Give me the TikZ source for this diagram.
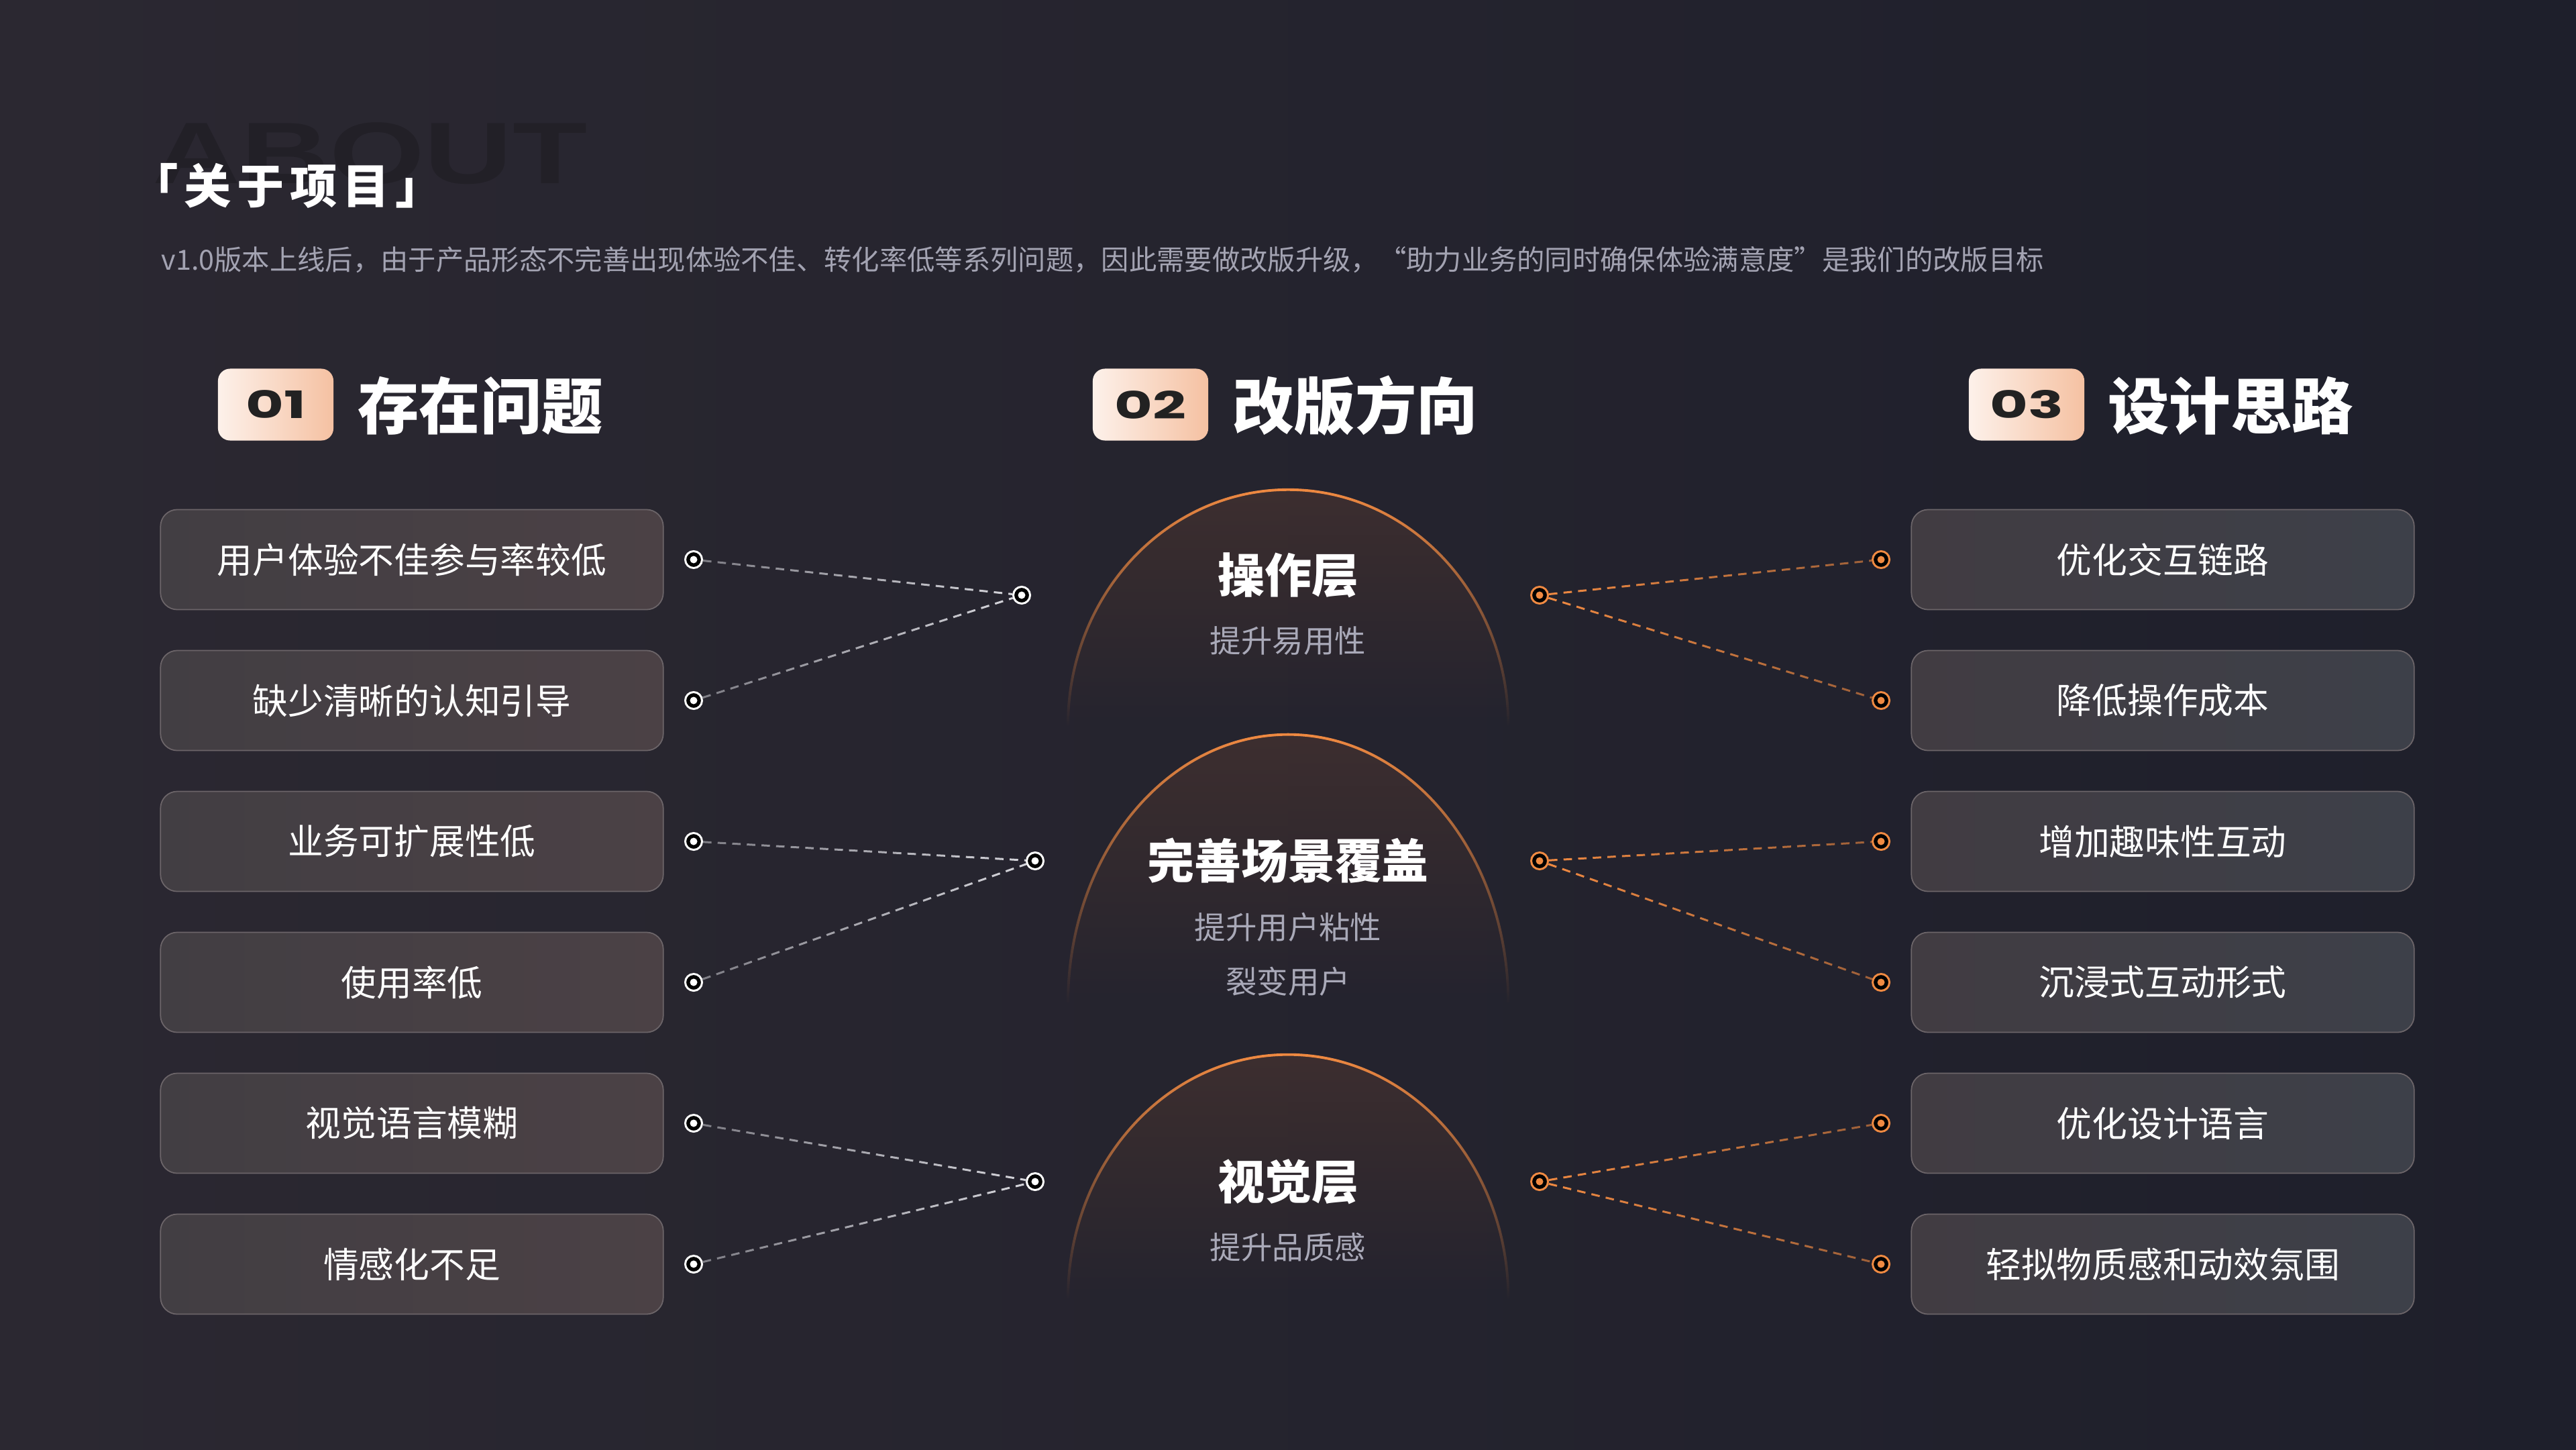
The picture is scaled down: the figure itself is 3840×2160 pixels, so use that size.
\documentclass[tikz,border=0pt]{standalone}
\usepackage{fontspec}
\setmainfont{Noto Sans CJK SC}
\newfontfamily\popfont{Poppins}
\newfontfamily\absfont{Liberation Sans}
\usetikzlibrary{fadings}
\definecolor{bgL}{HTML}{2B2831}
\definecolor{bgR}{HTML}{1E1F2B}
\definecolor{aboutc}{HTML}{222027}
\definecolor{subgrey}{HTML}{A3A3B2}
\definecolor{peachL}{HTML}{FDF1EA}
\definecolor{peachR}{HTML}{F5C1A2}
\definecolor{badgetxt}{HTML}{222222}
\definecolor{lboxL}{HTML}{423E43}
\definecolor{lboxR}{HTML}{4B4145}
\definecolor{rboxL}{HTML}{413C42}
\definecolor{rboxR}{HTML}{3D4049}
\definecolor{boxline}{HTML}{6C6569}
\definecolor{orng}{HTML}{F08A42}
\definecolor{domefill}{HTML}{4C3530}
\definecolor{dashgrey}{HTML}{D6D6DC}
\definecolor{domesubc}{HTML}{A9A9B8}
\tikzfading[name=domefade, top color=transparent!38, bottom color=transparent!100]
\tikzfading[name=strokefade, top color=transparent!0, middle color=transparent!35, bottom color=transparent!100]
\tikzfading[name=tocenterL, left color=transparent!50, right color=transparent!0]
\tikzfading[name=tocenterR, left color=transparent!0, right color=transparent!40]
\begin{document}
\begin{tikzpicture}[x=0.01cm,y=0.01cm,
  badge/.style={rounded corners=0.18cm, minimum width=1.72cm, minimum height=1.07cm, inner sep=0, left color=peachL, right color=peachR},
  badgenum/.style={font=\popfont\bfseries\fontsize{16}{17}\selectfont, text=badgetxt, xscale=1.55, inner sep=0},
  header/.style={font=\bfseries\fontsize{26}{30}\selectfont, text=white, inner sep=0},
  lbox/.style={rounded corners=0.25cm, minimum width=7.49cm, minimum height=1.49cm, inner sep=0, left color=lboxL, right color=lboxR, draw=boxline, line width=0.5pt, text=white, font=\fontsize{15}{18}\selectfont},
  rbox/.style={lbox, left color=rboxL, right color=rboxR},
  wmark/.style={circle, minimum size=0.25cm, inner sep=0, fill=black, draw=white, line width=0.85pt, path picture={\fill[white] (path picture bounding box.center) circle (0.055cm);}},
  omark/.style={wmark, draw=orng, path picture={\fill[orng] (path picture bounding box.center) circle (0.055cm);}},
  ldash/.style={draw=dashgrey, line width=0.85pt, dash pattern=on 3.6pt off 2.6pt, path fading=tocenterL},
  rdash/.style={draw=orng, line width=0.85pt, dash pattern=on 3.6pt off 2.6pt, path fading=tocenterR},
  dometitle/.style={font=\bfseries\fontsize{19.9}{24}\selectfont, text=white, inner sep=0},
  domesub/.style={font=\fontsize{13.2}{16}\selectfont, text=domesubc, inner sep=0},
  domefillst/.style={fill=domefill, path fading=domefade},
  domestroke/.style={draw=orng, line width=1.1pt, path fading=strokefade}
]
\useasboundingbox (0,0) rectangle (3840,-2160);
\shade[left color=bgL, right color=bgR] (0,0) rectangle (3840,-2160);

% watermark and title
\node[anchor=base west, text=aboutc, font=\absfont\bfseries\fontsize{37}{40}\selectfont, xscale=1.4, inner sep=0] (about) at (227,-273) {ABOUT};
\node[font=\bfseries\fontsize{20}{24}\selectfont\addfontfeatures{LetterSpace=12}, text=white, inner sep=0] (title) at (428,-277) {「关于项目」};
\node[anchor=west, font=\fontsize{11.75}{14}\selectfont, text=subgrey, inner sep=0] (subtitle) at (240,-387) {v1.0版本上线后，由于产品形态不完善出现体验不佳、转化率低等系列问题，因此需要做改版升级，“助力业务的同时确保体验满意度”是我们的改版目标};

% headers
\node[badge] (b1) at (411,-603) {};
\node[badgenum] (b1t) at (b1.center) {01};
\node[header] (h1) at (716,-605) {存在问题};
\node[badge] (b2) at (1715,-603) {};
\node[badgenum] (b2t) at (b2.center) {02};
\node[header] (h2) at (2020,-605) {改版方向};
\node[badge] (b3) at (3021,-603) {};
\node[badgenum] (b3t) at (b3.center) {03};
\node[header] (h3) at (3325,-605) {设计思路};

% domes
\fill[domefillst] (1592,-1081) arc[start angle=180, end angle=0, x radius=3.28cm, y radius=3.51cm] -- cycle;
\draw[domestroke] (1592,-1081) arc[start angle=180, end angle=0, x radius=3.28cm, y radius=3.51cm];
\fill[domefillst] (1592,-1495) arc[start angle=180, end angle=0, x radius=3.28cm, y radius=4.00cm] -- cycle;
\draw[domestroke] (1592,-1495) arc[start angle=180, end angle=0, x radius=3.28cm, y radius=4.00cm];
\fill[domefillst] (1592,-1935) arc[start angle=180, end angle=0, x radius=3.28cm, y radius=3.63cm] -- cycle;
\draw[domestroke] (1592,-1935) arc[start angle=180, end angle=0, x radius=3.28cm, y radius=3.63cm];

\node[dometitle] (d1t) at (1920,-857) {操作层};
\node[domesub] (d1s) at (1920,-955) {提升易用性};
\node[dometitle] (d2t) at (1920,-1283) {完善场景覆盖};
\node[domesub] (d2s) at (1920,-1382) {提升用户粘性};
\node[domesub] (d2u) at (1920,-1463) {裂变用户};
\node[dometitle] (d3t) at (1920,-1761) {视觉层};
\node[domesub] (d3s) at (1920,-1859) {提升品质感};

% left boxes
\node[lbox] (l1) at (614,-834) {用户体验不佳参与率较低};
\node[lbox] (l2) at (614,-1044) {缺少清晰的认知引导};
\node[lbox] (l3) at (614,-1254) {业务可扩展性低};
\node[lbox] (l4) at (614,-1464) {使用率低};
\node[lbox] (l5) at (614,-1674) {视觉语言模糊};
\node[lbox] (l6) at (614,-1884) {情感化不足};

% right boxes
\node[rbox] (r1) at (3224,-834) {优化交互链路};
\node[rbox] (r2) at (3224,-1044) {降低操作成本};
\node[rbox] (r3) at (3224,-1254) {增加趣味性互动};
\node[rbox] (r4) at (3224,-1464) {沉浸式互动形式};
\node[rbox] (r5) at (3224,-1674) {优化设计语言};
\node[rbox] (r6) at (3224,-1884) {轻拟物质感和动效氛围};

% left markers
\node[wmark] (lm1) at (1034,-834) {};
\node[wmark] (lm2) at (1034,-1044) {};
\node[wmark] (lm3) at (1034,-1254) {};
\node[wmark] (lm4) at (1034,-1464) {};
\node[wmark] (lm5) at (1034,-1674) {};
\node[wmark] (lm6) at (1034,-1884) {};
\node[wmark] (lj1) at (1523,-887) {};
\node[wmark] (lj2) at (1543,-1283) {};
\node[wmark] (lj3) at (1543,-1761) {};

% right markers
\node[omark] (rj1) at (2295,-887) {};
\node[omark] (rj2) at (2295,-1283) {};
\node[omark] (rj3) at (2295,-1761) {};
\node[omark] (rm1) at (2804,-834) {};
\node[omark] (rm2) at (2804,-1044) {};
\node[omark] (rm3) at (2804,-1254) {};
\node[omark] (rm4) at (2804,-1464) {};
\node[omark] (rm5) at (2804,-1674) {};
\node[omark] (rm6) at (2804,-1884) {};

% connectors
\draw[ldash] (lm1) -- (lj1);
\draw[ldash] (lm2) -- (lj1);
\draw[ldash] (lm3) -- (lj2);
\draw[ldash] (lm4) -- (lj2);
\draw[ldash] (lm5) -- (lj3);
\draw[ldash] (lm6) -- (lj3);
\draw[rdash] (rj1) -- (rm1);
\draw[rdash] (rj1) -- (rm2);
\draw[rdash] (rj2) -- (rm3);
\draw[rdash] (rj2) -- (rm4);
\draw[rdash] (rj3) -- (rm5);
\draw[rdash] (rj3) -- (rm6);
\end{tikzpicture}
\end{document}
